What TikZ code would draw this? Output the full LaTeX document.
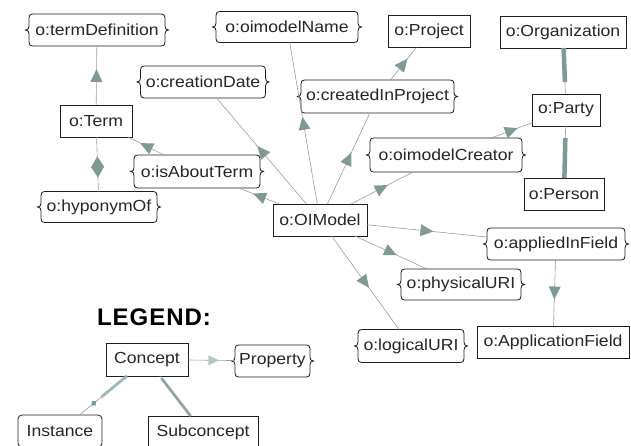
\documentclass[tikz,border=0pt]{standalone}
\usepackage{fontspec}
\setmainfont{Liberation Sans}[FakeStretch=1.1]
\newfontfamily\legfam{Liberation Sans}[LetterSpace=4]
\usetikzlibrary{decorations.markings}
\definecolor{edgegray}{HTML}{9C9C9C}
\definecolor{arrowfill}{HTML}{7E9A94}
\definecolor{boxline}{HTML}{1E1E1E}
\definecolor{instgreen}{HTML}{93B5AC}

\makeatletter
\newdimen\pbL \newdimen\pbR \newdimen\pbT \newdimen\pbB \newdimen\pbM
\pgfdeclareshape{propbox}{
  \inheritsavedanchors[from=rectangle]
  \inheritanchorborder[from=rectangle]
  \inheritanchor[from=rectangle]{center}
  \inheritanchor[from=rectangle]{north}
  \inheritanchor[from=rectangle]{south}
  \inheritanchor[from=rectangle]{east}
  \inheritanchor[from=rectangle]{west}
  \inheritanchor[from=rectangle]{north east}
  \inheritanchor[from=rectangle]{north west}
  \inheritanchor[from=rectangle]{south east}
  \inheritanchor[from=rectangle]{south west}
  \inheritanchor[from=rectangle]{text}
  \inheritanchor[from=rectangle]{base}
  \inheritanchor[from=rectangle]{mid}
  \backgroundpath{%
    \southwest \pbL=\pgf@x \pbB=\pgf@y
    \northeast \pbR=\pgf@x \pbT=\pgf@y
    \pbM=.5\pbB \advance\pbM by .5\pbT
    \pgfpathmoveto{\pgfqpoint{\dimexpr\pbL+3.5pt\relax}{\pbT}}
    \pgfpathlineto{\pgfqpoint{\dimexpr\pbR-3.5pt\relax}{\pbT}}
    \pgfpathquadraticcurveto{\pgfqpoint{\pbR}{\pbT}}{\pgfqpoint{\pbR}{\dimexpr\pbT-4pt\relax}}
    \pgfpathlineto{\pgfqpoint{\pbR}{\dimexpr\pbM+4pt\relax}}
    \pgfpathquadraticcurveto{\pgfqpoint{\pbR}{\pbM}}{\pgfqpoint{\dimexpr\pbR+3.5pt\relax}{\pbM}}
    \pgfpathquadraticcurveto{\pgfqpoint{\pbR}{\pbM}}{\pgfqpoint{\pbR}{\dimexpr\pbM-4pt\relax}}
    \pgfpathlineto{\pgfqpoint{\pbR}{\dimexpr\pbB+4pt\relax}}
    \pgfpathquadraticcurveto{\pgfqpoint{\pbR}{\pbB}}{\pgfqpoint{\dimexpr\pbR-3.5pt\relax}{\pbB}}
    \pgfpathlineto{\pgfqpoint{\dimexpr\pbL+3.5pt\relax}{\pbB}}
    \pgfpathquadraticcurveto{\pgfqpoint{\pbL}{\pbB}}{\pgfqpoint{\pbL}{\dimexpr\pbB+4pt\relax}}
    \pgfpathlineto{\pgfqpoint{\pbL}{\dimexpr\pbM-4pt\relax}}
    \pgfpathquadraticcurveto{\pgfqpoint{\pbL}{\pbM}}{\pgfqpoint{\dimexpr\pbL-3.5pt\relax}{\pbM}}
    \pgfpathquadraticcurveto{\pgfqpoint{\pbL}{\pbM}}{\pgfqpoint{\pbL}{\dimexpr\pbM+4pt\relax}}
    \pgfpathlineto{\pgfqpoint{\pbL}{\dimexpr\pbT-4pt\relax}}
    \pgfpathquadraticcurveto{\pgfqpoint{\pbL}{\pbT}}{\pgfqpoint{\dimexpr\pbL+3.5pt\relax}{\pbT}}
    \pgfpathclose
  }
}
\makeatother

\begin{document}
\begin{tikzpicture}[x=1pt,y=-1pt,
  base/.style={draw=boxline, line width=0.8pt, font=\fontsize{16}{19}\selectfont,
    text=black!85, minimum height=32pt, inner xsep=4pt, inner ysep=0pt,
    outer sep=0pt, fill=white},
  concept/.style={base, rectangle},
  prop/.style={base, shape=propbox},
  inst/.style={base, rectangle, rounded corners=4pt},
  rel/.style={draw=edgegray, line width=0.6pt, postaction={decorate},
    decoration={markings, mark=at position 0.5 with
      {\fill[arrowfill] (6.5pt,0) -- (-6.5pt,6pt) -- (-6.5pt,-6pt) -- cycle;}}},
  legrel/.style={draw=edgegray, line width=0.6pt, postaction={decorate},
    decoration={markings, mark=at position 0.55 with
      {\fill[arrowfill!55] (5.5pt,0) -- (-5.5pt,5pt) -- (-5.5pt,-5pt) -- cycle;}}},
  hypo/.style={draw=edgegray, line width=0.6pt, postaction={decorate},
    decoration={markings, mark=at position 0.45 with
      {\fill[arrowfill] (10.5pt,0) -- (0,6.5pt) -- (-10.5pt,0) -- (0,-6.5pt) -- cycle;}}},
  subline/.style={draw=edgegray, line width=0.6pt},
  subthick/.style={draw=arrowfill, line width=4.5pt},
  legsub/.style={draw=arrowfill!85, line width=2.8pt},
  instthick/.style={draw=instgreen, line width=3pt, dash pattern=on 1.5pt off 0.6pt},
  instmark/.style={draw=edgegray, line width=0.6pt, postaction={decorate},
    decoration={markings, mark=at position 0.7 with
      {\fill[arrowfill] (3pt,0) -- (0,3pt) -- (-3pt,0) -- (0,-3pt) -- cycle;}}},
  legendtxt/.style={font=\legfam\bfseries\fontsize{24}{28}\selectfont, inner sep=0pt}
]
\useasboundingbox (0,0) rectangle (631,446);

% nodes
\node[prop, minimum width=136pt] (termDef) at (97,30) {o:termDefinition};
\node[prop, minimum width=142pt, minimum height=31pt] (oimodelName) at (287,27) {o:oimodelName};
\node[concept, minimum width=82pt] (Project) at (429,31.5) {o:Project};
\node[concept, minimum width=126pt] (Organization) at (563,32) {o:Organization};
\node[prop, minimum width=125pt] (creationDate) at (203,82) {o:creationDate};
\node[prop, minimum width=153pt, minimum height=33pt] (createdInProject) at (377.5,96.5) {o:createdInProject};
\node[concept, minimum width=72pt] (Term) at (96,121) {o:Term};
\node[concept, minimum width=68pt] (Party) at (566,110) {o:Party};
\node[prop, minimum width=152pt, minimum height=34pt] (oimodelCreator) at (446,155) {o:oimodelCreator};
\node[prop, minimum width=126pt, minimum height=33pt] (isAboutTerm) at (197,171.5) {o:isAboutTerm};
\node[prop, minimum width=116pt, minimum height=31pt] (hyponymOf) at (99,207) {o:hyponymOf};
\node[concept, minimum width=80pt] (Person) at (564,194) {o:Person};
\node[concept, minimum width=94pt] (OIModel) at (320,220) {o:OIModel};
\node[prop, minimum width=138pt] (appliedInField) at (556,244) {o:appliedInField};
\node[prop, minimum width=120pt, minimum height=31pt] (physicalURI) at (461,284.5) {o:physicalURI};
\node[prop, minimum width=106pt, minimum height=33pt] (logicalURI) at (411,346) {o:logicalURI};
\node[concept, minimum width=152pt] (ApplicationField) at (553,342) {o:ApplicationField};

% legend
\node[legendtxt] (legend) at (154,317.5) {LEGEND:};
\node[concept, minimum width=82pt, minimum height=33pt] (Concept) at (147,359.5) {Concept};
\node[prop, minimum width=75pt] (Property) at (272.5,361) {Property};
\node[inst, minimum width=84pt] (Instance) at (60,431) {Instance};
\node[concept, minimum width=110pt] (Subconcept) at (203,432) {Subconcept};

% connectors
\draw[rel] (Term) -- (termDef);
\draw[hypo] (hyponymOf) -- (Term);
\draw[rel] (isAboutTerm) -- (Term);
\draw[rel] (OIModel) -- (isAboutTerm);
\draw[rel] (OIModel) -- (creationDate);
\draw[rel] (OIModel) -- (oimodelName);
\draw[rel] (OIModel) -- (createdInProject);
\draw[rel] (createdInProject) -- (Project);
\draw[rel] (OIModel) -- (oimodelCreator);
\draw[rel] (oimodelCreator) -- (Party);
\draw[rel] (OIModel) -- (appliedInField);
\draw[rel] (OIModel) -- (physicalURI);
\draw[rel] (OIModel) -- (logicalURI);
\draw[rel] (appliedInField) -- (ApplicationField);

\draw[subline] (Organization) -- (Party);
\draw[subthick, shorten >=12pt] (Organization) -- (Party);
\draw[subline] (Party) -- (Person);
\draw[subthick, shorten <=12pt] (Party) -- (Person);

\draw[legrel] (Concept) -- (Property);
\draw[subline] (Concept) -- (Subconcept);
\draw[legsub, shorten <=3pt] (Concept) -- (Subconcept);
\draw[instmark] (Concept) -- (Instance);
\draw[instthick, shorten >=28pt] (Concept) -- (Instance);
\end{tikzpicture}
\end{document}
